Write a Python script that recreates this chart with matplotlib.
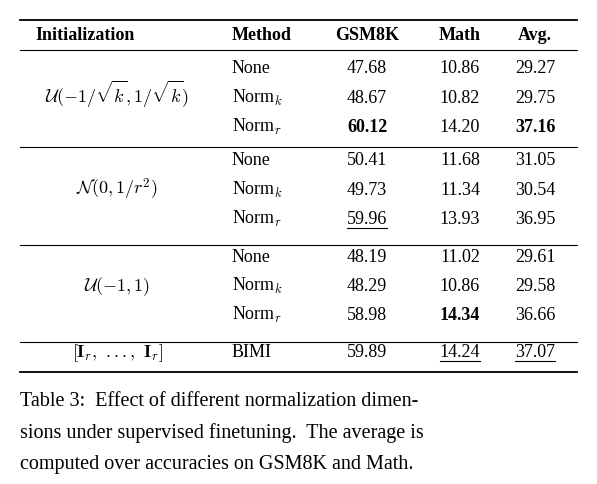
import matplotlib
matplotlib.use("Agg")
import matplotlib.pyplot as plt

plt.rcParams['font.family'] = ['Liberation Serif', 'DejaVu Serif']
plt.rcParams['mathtext.fontset'] = 'cm'

headers = ["Initialization", "Method", "GSM8K", "Math", "Avg."]
inits = [r"$\mathcal{U}(-1/\sqrt{k},1/\sqrt{k})$", r"$\mathcal{N}(0,1/r^2)$", r"$\mathcal{U}(-1,1)$",
         r"$[\mathbf{I}_r,\ ...,\ \mathbf{I}_r]$"]
methods = [["None", "Norm$_k$", "Norm$_r$"]] * 3 + [["BIMI"]]
gsm = [[47.68, 48.67, 60.12], [50.41, 49.73, 59.96], [48.19, 48.29, 58.98], [59.89]]
math_ = [[10.86, 10.82, 14.20], [11.68, 11.34, 13.93], [11.02, 10.86, 14.34], [14.24]]
avg = [[29.27, 29.75, 37.16], [31.05, 30.54, 36.95], [29.61, 29.58, 36.66], [37.07]]
bold = {(0, 2, 0), (0, 2, 2), (2, 2, 1)}
under = {(1, 2, 0), (3, 0, 1), (3, 0, 2)}
caption = ["Table 3:  Effect of different normalization dimen-",
           "sions under supervised finetuning.  The average is",
           "computed over accuracies on GSM8K and Math."]

W, H = 597, 484
fig = plt.figure(figsize=(W / 100, H / 100), dpi=100)
ax = fig.add_axes([0, 0, 1, 1])
ax.set_xlim(0, W); ax.set_ylim(H, 0); ax.axis('off')
fs = 13
B = 5  # baseline offset from row centre
colx = [None, 232, 367, 460, 535]
ax.text(35, 35 + B, headers[0], fontsize=fs, weight='bold', va='baseline', ha='left')
for i in range(1, 5):
    ax.text(colx[i], 35 + B, headers[i], fontsize=fs, weight='bold', va='baseline',
            ha='left' if i == 1 else 'center')
ax.plot([20, 577], [20, 20], color='k', lw=1.3)
ax.plot([20, 577], [50, 50], color='k', lw=0.8)
group_rows = [[68, 98, 127], [160, 190, 219], [257, 286, 315], [352]]
seps = [147, 245, 342]
for s in seps:
    ax.plot([20, 577], [s, s], color='k', lw=0.8)
ax.plot([20, 577], [372, 372], color='k', lw=1.3)
texts_under = []
for g in range(4):
    ys = group_rows[g]
    ax.text(117, sum(ys) / len(ys) + B, inits[g], fontsize=fs, ha='center', va='baseline')
    for r, y in enumerate(ys):
        ax.text(colx[1], y + B, methods[g][r], fontsize=fs, ha='left', va='baseline')
        for c, arr in enumerate([gsm, math_, avg]):
            t = ax.text(colx[c + 2], y + B, f"{arr[g][r]:.2f}", fontsize=fs, ha='center', va='baseline',
                        weight='bold' if (g, r, c) in bold else 'normal')
            if (g, r, c) in under:
                texts_under.append((t, y))
fig.canvas.draw()
rend = fig.canvas.get_renderer()
for t, y in texts_under:
    bb = t.get_window_extent(rend)
    ax.plot([bb.x0, bb.x1], [y + 9, y + 9], color='k', lw=0.8)
for i, line in enumerate(caption):
    ax.text(20, 402 + i * 31, line, fontsize=14.5, ha='left', va='center')
fig.savefig("out.png", dpi=100)
